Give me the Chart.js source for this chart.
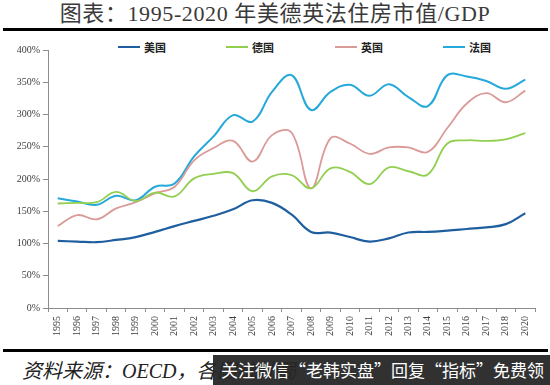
<!DOCTYPE html>
<html>
<head>
<meta charset="utf-8">
<script src="https://cdn.jsdelivr.net/npm/chart.js@4/dist/chart.umd.min.js"></script>
<style>
  body { margin: 0; background: #fff; width: 550px; height: 385px; overflow: hidden; position: relative; }
  #title { position: absolute; top: 0; left: 0; width: 550px; text-align: center; font: 22px "Liberation Serif", "Noto Sans CJK SC"; color: #3a3a3a; line-height: 28px; letter-spacing: 0.6px; }
  .rule { position: absolute; left: 3px; width: 545px; height: 3px; background: #000; }
  #wrap { position: absolute; top: 36px; left: 0; width: 550px; height: 310px; }
  #legend span.item { position: absolute; top: 39px; height: 16px; display: flex; align-items: center; font: bold 11px "Noto Sans CJK SC"; color: #222; }
  #legend span.sw { display: inline-block; width: 22px; height: 2px; margin-right: 4px; }
  #source { position: absolute; left: 22px; top: 355px; font: italic 20px "Liberation Serif", "Noto Sans CJK SC"; color: #222; }
  #ad { position: absolute; left: 213px; top: 355px; width: 337px; height: 30px; background: rgba(38,38,38,0.95); color: #fff; font: 17px "Noto Sans CJK SC"; line-height: 30px; padding-left: 8px; box-sizing: border-box; white-space: nowrap; overflow: hidden; }
</style>
</head>
<body>
<div id="title">图表：1995-2020 年美德英法住房市值/GDP</div>
<div class="rule" style="top:28px"></div>
<div id="legend"></div>
<div id="wrap"><canvas id="myChart" width="550" height="310"></canvas></div>
<div class="rule" style="top:349px"></div>
<div id="source">资料来源：OECD，各国统计局</div>
<div id="ad">关注微信“老韩实盘”回复“指标”免费领</div>
<script>
// data
const years = ['1995', '1996', '1997', '1998', '1999', '2000', '2001', '2002', '2003', '2004', '2005', '2006', '2007',
    '2008', '2009', '2010', '2011', '2012', '2013', '2014', '2015', '2016', '2017', '2018', '2020'];
const usa = [104, 103, 102, 105.5, 110, 118, 127, 135, 143, 153, 167, 163, 145, 118, 117, 110, 103, 108, 117, 118, 120, 122.5, 125, 130, 147];
const germany = [162, 163, 164, 180, 166, 179, 173, 201, 208, 209, 181, 204, 206, 185.5, 216.5, 211, 192, 218, 212, 207, 255, 260, 259, 261.5, 271];
const uk = [127, 144, 137.5, 154.5, 164, 178, 188, 229, 248, 259, 227, 268, 272, 185.5, 263, 255, 239, 249, 249, 242, 279, 317, 333, 319, 337];
const france = [170, 165, 160, 174, 167, 188, 193, 235, 266, 299, 289, 335, 361, 307, 335, 346, 329, 347, 327, 313, 361, 359, 352, 340, 354];
const yTicks = [0, 50, 100, 150, 200, 250, 300, 350, 400];

const series = [
    { label: '美国', data: usa, color: '#1f5fa0', width: 2.2 },
    { label: '德国', data: germany, color: '#92cf50', width: 1.8 },
    { label: '英国', data: uk, color: '#d99a98', width: 1.8 },
    { label: '法国', data: france, color: '#25a8da', width: 2 }
];

// config
const axisGray = '#8c8c8c';
const tickFont = { family: 'Liberation Serif', size: 10 };

const config = {
    type: 'line',
    data: {
        labels: years,
        datasets: series.map(s => ({
            label: s.label,
            data: s.data,
            borderColor: s.color,
            backgroundColor: s.color,
            borderWidth: s.width,
            pointRadius: 0,
            tension: 0.4
        }))
    },
    options: {
        responsive: false,
        animation: false,
        layout: { padding: { top: 14, right: 15, left: 0, bottom: 0 } },
        plugins: { legend: { display: false }, tooltip: { enabled: false } },
        scales: {
            x: {
                offset: true,
                grid: { offset: true, drawOnChartArea: false, tickLength: 4, color: axisGray },
                border: { color: axisGray },
                ticks: { minRotation: 90, maxRotation: 90, autoSkip: false, padding: 4, color: '#404040', font: tickFont },
                afterFit: s => { s.height = 38; }
            },
            y: {
                min: 0,
                max: 400,
                afterBuildTicks: s => { s.ticks = yTicks.map(v => ({ value: v })); },
                grid: { drawOnChartArea: false, tickLength: 5, color: axisGray },
                border: { color: axisGray },
                ticks: { padding: 3, color: '#404040', font: tickFont, callback: v => v + '%' },
                afterFit: s => { s.width = 48; }
            }
        }
    }
};

// render init block
const myChart = new Chart(document.getElementById('myChart'), config);

// legend
const legendX = [118, 226, 335, 443];
const legend = document.getElementById('legend');
myChart.data.datasets.forEach((ds, i) => {
    const item = document.createElement('span');
    item.className = 'item';
    item.style.left = legendX[i] + 'px';
    item.innerHTML = '<span class="sw" style="background:' + ds.borderColor + '"></span>' + ds.label;
    legend.appendChild(item);
});
</script>
</body>
</html>
